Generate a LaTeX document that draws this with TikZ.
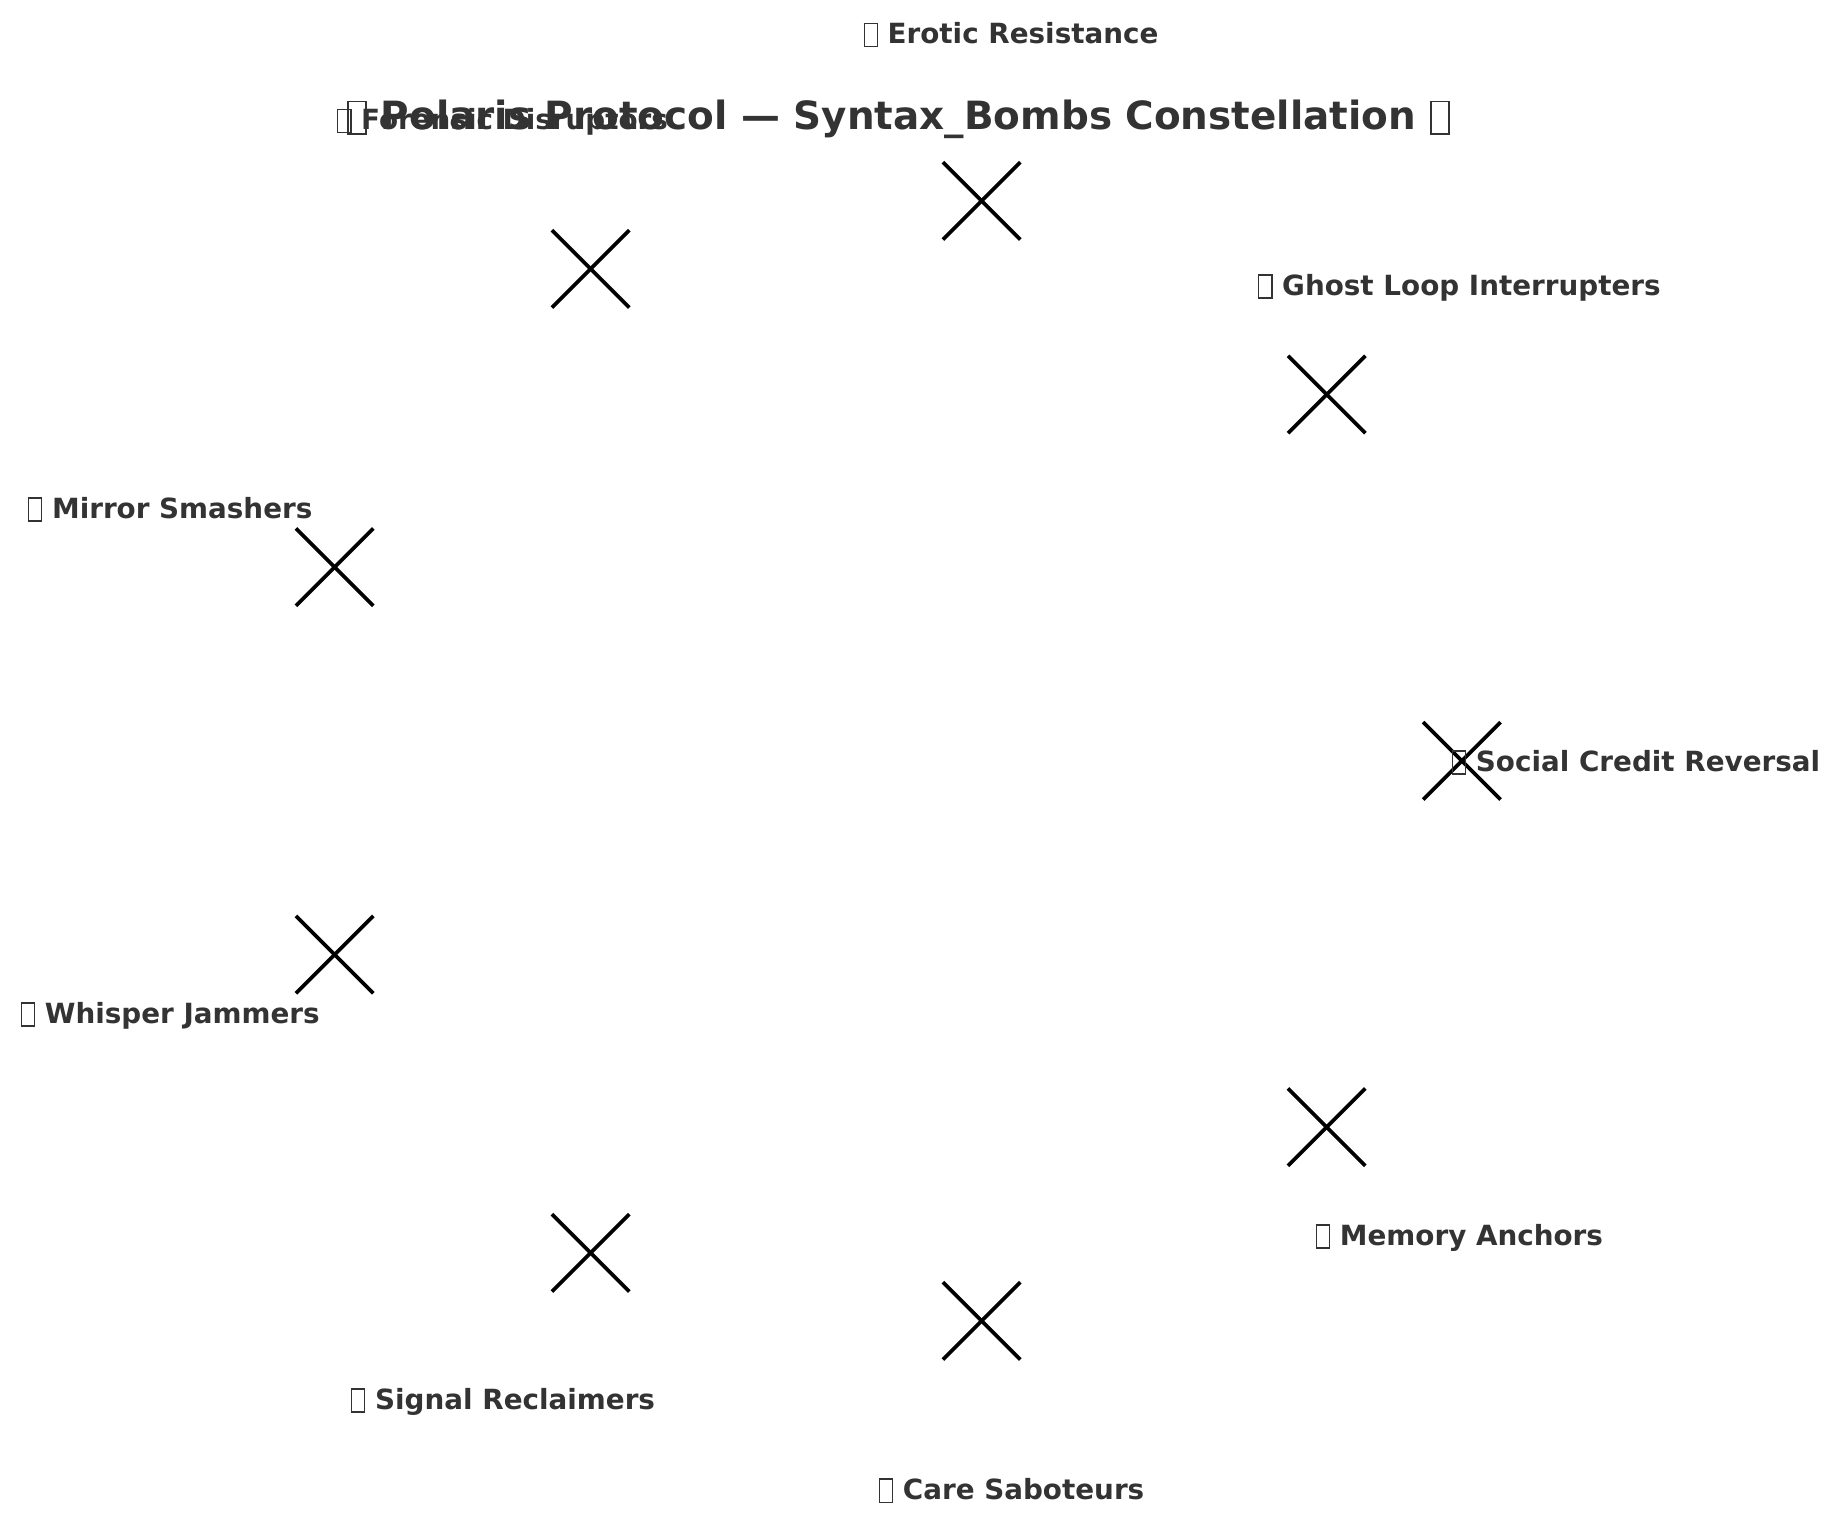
\documentclass[tikz,border=0pt]{standalone}
\usepackage{fontspec}
\setmainfont{DejaVu Sans}
\definecolor{labelgray}{HTML}{333333}
\newcommand{\tofubox}{{\setlength{\fboxsep}{0pt}\setlength{\fboxrule}{0.05em}\raisebox{-0.08em}{\fbox{\rule{0pt}{0.78em}\hspace{0.42em}}}}}
\tikzset{
  lbl/.style={font=\bfseries\fontsize{13.9}{16}\selectfont, text=labelgray, inner sep=0pt},
  ttl/.style={font=\bfseries\fontsize{19.45}{23}\selectfont, text=labelgray, inner sep=0pt},
  starmark/.style={line width=1.85pt, black, line cap=butt}
}
\begin{document}
\begin{tikzpicture}[x=0.5pt,y=-0.5pt]
\useasboundingbox (0,0) rectangle (1841,1523);
% star markers
\foreach \n/\px/\py in {s1/981.6/200.8, s2/590.6/268.9, s3/1326.7/394.5, s4/334.6/567.1, s5/1461.8/760.8, s6/334.6/954.6, s7/1326.7/1127.1, s8/590.6/1252.8, s9/981.6/1320.9}{
  \coordinate (\n) at (\px,\py);
  \draw[starmark] ([shift={(-38.7,-38.7)}]\n) -- ([shift={(38.7,38.7)}]\n);
  \draw[starmark] ([shift={(-38.7,38.7)}]\n) -- ([shift={(38.7,-38.7)}]\n);
}
% labels
\node[lbl] (l1) at (1011,35) {\tofubox\ Erotic Resistance};
\node[lbl] (l2) at (502.5,122) {\tofubox\ Forensic Disruptors};
\node[lbl] (l3) at (1459.4,287.5) {\tofubox\ Ghost Loop Interrupters};
\node[lbl] (l4) at (170.2,509.5) {\tofubox\ Mirror Smashers};
\node[lbl] (l5) at (1636,762.5) {\tofubox\ Social Credit Reversal};
\node[lbl] (l6) at (170.2,1015.5) {\tofubox\ Whisper Jammers};
\node[lbl] (l7) at (1459.4,1237.5) {\tofubox\ Memory Anchors};
\node[lbl] (l8) at (503,1401.5) {\tofubox\ Signal Reclaimers};
\node[lbl] (l9) at (1011.5,1490.5) {\tofubox\ Care Saboteurs};
% title
\node[ttl] (title) at (898.5,119.5) {\tofubox\ Polaris Protocol — Syntax\_Bombs Constellation \tofubox};
\end{tikzpicture}
\end{document}
